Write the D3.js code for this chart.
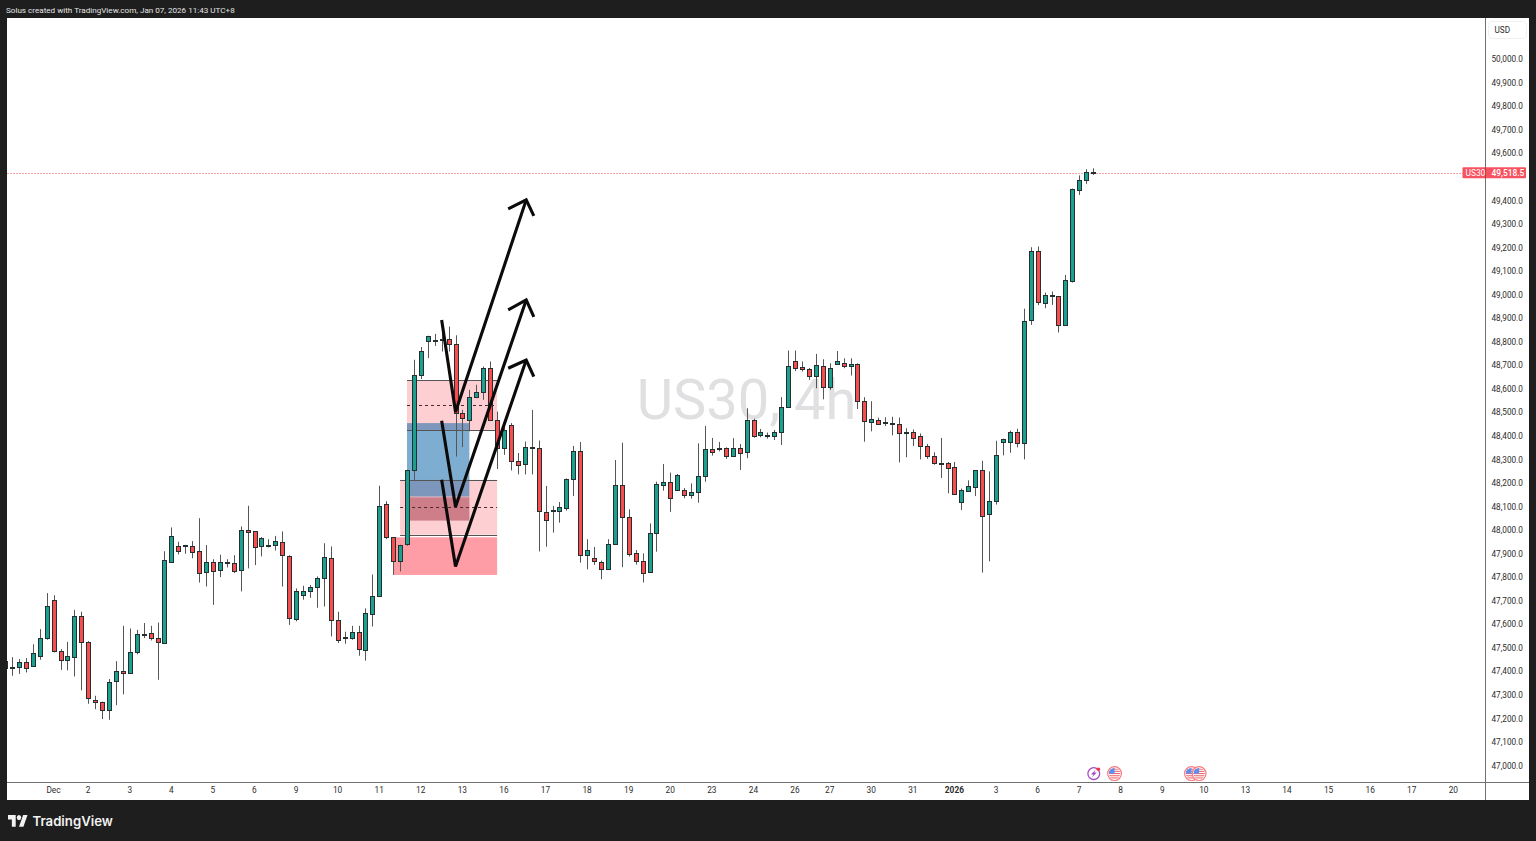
<!DOCTYPE html>
<html><head><meta charset="utf-8">
<style>html,body{margin:0;padding:0;background:#1e1e1e;overflow:hidden}svg{display:block}</style>
<script src="https://cdnjs.cloudflare.com/ajax/libs/d3/7.8.5/d3.min.js"></script>
</head><body><svg id="c" width="1536" height="841"></svg>
<script>
// bars are numbered from -1 (partly hidden at the left edge)
const opens=[47412,47416,47416,47438,47419,47461,47540,47700,47486,47444,47458,47631,47523,47276,47267,47232,47355,47399,47389,47482,47554,47560,47539,47520,47864,47931,47931,47931,47908,47819,47864,47830,47864,47857,47828,47999,47992,47932,47931,47934,47949,47888,47618,47723,47740,47757,47796,47877,47614,47543,47540,47564,47489,47642,47716,48109,47968,47865,47937,48251,48658,48800,48799,48804,48808,48786,48493,48467,48562,48586,48687,48467,48346,48442,48291,48278,48351,48347,48075,48082,48080,48093,48213,48333,47891,47881,47864,47833,47939,48191,48052,47899,47865,47818,47984,48191,48202,48168,48168,48148,48159,48226,48341,48342,48345,48314,48345,48328,48464,48402,48402,48396,48413,48519,48714,48689,48680,48652,48695,48607,48705,48706,48695,48702,48545,48458,48464,48456,48454,48450,48414,48413,48399,48353,48311,48284,48281,48264,48116,48165,48182,48251,48066,48123,48373,48373,48414,48367,48889,49185,48961,48991,48991,48869,49057,49444,49483,49514];
const highs=[47447,47458,47450,47454,47513,47577,47730,47721,47492,47523,47659,47651,47526,47294,47269,47365,47441,47591,47580,47574,47603,47591,47605,47908,48009,47948,47935,47951,48048,47934,47874,47893,47874,47891,48013,48101,47992,47968,47959,47973,47992,47891,47750,47761,47764,47801,47942,47928,47651,47566,47591,47591,47665,47809,48186,48120,47968,47935,48254,48721,48775,48823,48831,48834,48862,48825,48508,48593,48615,48692,48714,48501,48438,48452,48325,48374,48508,48378,48185,48100,48117,48217,48355,48372,47959,47926,47868,47959,48295,48369,48086,47913,47899,48026,48203,48278,48242,48236,48176,48196,48366,48440,48389,48372,48349,48388,48363,48515,48471,48427,48412,48423,48562,48760,48760,48714,48686,48746,48723,48706,48758,48727,48727,48706,48562,48545,48475,48477,48479,48476,48430,48425,48408,48363,48328,48389,48287,48287,48174,48209,48253,48292,48247,48377,48386,48420,48428,48938,49199,49202,49006,49011,48992,49081,49448,49504,49530,49534];
const lows=[47404,47379,47387,47393,47419,47447,47532,47478,47404,47402,47376,47317,47260,47237,47195,47192,47254,47300,47389,47470,47539,47529,47362,47520,47864,47894,47897,47878,47775,47758,47680,47798,47839,47815,47737,47835,47849,47886,47924,47911,47758,47595,47610,47702,47710,47668,47673,47546,47518,47515,47532,47464,47443,47588,47713,47959,47808,47822,47931,48211,48639,48728,48780,48756,48756,48310,48350,48417,48558,48551,48463,48257,48317,48251,48234,48234,48234,47907,47927,47987,48029,48080,48142,47859,47831,47850,47789,47831,47934,47840,47885,47851,47775,47817,47906,48165,48075,48165,48133,48131,48114,48203,48314,48332,48300,48314,48253,48303,48390,48392,48386,48380,48359,48516,48673,48671,48635,48600,48553,48593,48703,48685,48654,48512,48373,48417,48444,48440,48400,48285,48307,48355,48298,48300,48275,48219,48154,48147,48083,48162,48142,47817,47865,48106,48315,48326,48349,48298,48869,48953,48940,48954,48837,48868,49049,49421,49468,49506];
const closes=[47440,47417,47438,47414,47475,47540,47676,47486,47444,47461,47631,47523,47283,47267,47232,47352,47399,47389,47478,47557,47557,47539,47523,47870,47973,47908,47934,47905,47816,47864,47825,47864,47856,47826,47997,47990,47925,47963,47936,47951,47890,47625,47738,47738,47757,47796,47883,47614,47530,47540,47566,47492,47645,47717,48098,47968,47865,47934,48252,48656,48758,48820,48803,48808,48786,48493,48473,48562,48586,48687,48467,48347,48422,48293,48275,48351,48347,48078,48041,48077,48094,48216,48333,47893,47913,47865,47833,47939,48188,48055,47898,47865,47816,47984,48193,48202,48134,48230,48148,48158,48226,48341,48328,48346,48314,48348,48327,48464,48399,48413,48396,48413,48519,48695,48688,48680,48652,48697,48607,48685,48714,48695,48702,48547,48460,48468,48450,48453,48451,48411,48411,48390,48353,48311,48283,48281,48260,48150,48167,48185,48251,48059,48120,48317,48383,48416,48367,48887,49185,48965,48994,48995,48870,49059,49445,49483,49517,49519];
const priceTicks=[47000,47100,47200,47300,47400,47500,47600,47700,47800,47900,48000,48100,48200,48300,48400,48500,48600,48700,48800,48900,49000,49100,49200,49300,49400,49600,49700,49800,49900,50000];
const timeLabels=["Dec","2","3","4","5","6","9","10","11","12","13","16","17","18","19","20","23","24","26","27","30","31","2026","3","6","7","8","9","10","13","14","15","16","17","20"];
const timeBars=[6,11,17,23,29,35,41,47,53,59,65,71,77,83,89,95,101,107,113,118,124,130,136,142,148,154,160,166,172,178,184,190,196,202,208];
const lastPrice=49518.5;
// [bar start, bar end, price top, price bottom]
const boxStart=[57,55,56,57,57];
const boxEnd=[70,70,70,66,66];
const boxTop=[48635,47967,48211,48452,48137];
const boxBottom=[48423,47807,47978,48140,48038];
const boxFill=["rgba(247,82,95,.28)","rgba(255,60,80,.5)","rgba(247,82,95,.28)","rgba(15,104,168,.54)","rgba(150,30,50,.46)"];
const midBars=[[57,70],[56,70]];
const midPrices=[48529,48095];
// drawn zigzag arrows: bar and price of every vertex
const arrowBars=[[62,64,74.2],[62,64,74.2],[62,64,74.2]];
const arrowPrices=[[48890,48499,49400],[48462,48097,48975],[48211,47843,48720]];
const headBars=[[71.6,74.2,75.3],[71.6,74.2,75.3],[71.6,74.2,75.3]];
const headPrices=[[49362,49400,49332],[48933,48975,48903],[48685,48720,48649]];
const eventKinds=["bolt","flag","flag","flag"];
const eventBars=[156.1,159.1,170.2,171.3];

const UP="#1ba090",DOWN="#f94c4f",EDGE="#23302f",WICK="#565656";
const L=7,R=1485,T=18,B=782;
const x=d3.scaleLinear().domain([0,156]).range([12,1093.08]);
const y=d3.scaleLinear().domain([47000,50000]).range([765,58.6]);
const fontUI='Roboto,sans-serif';
const svg=d3.select("#c");
const defs=svg.append("defs");
defs.append("clipPath").attr("id","pane").append("rect").attr("x",L).attr("y",T).attr("width",R-L).attr("height",B-T);

svg.append("rect").attr("width",1536).attr("height",841).attr("fill","#1e1e1e");
svg.append("rect").attr("x",L).attr("y",T).attr("width",1529-L).attr("height",800-T).attr("fill","#fff");

svg.append("text").attr("x",6).attr("y",12.5).attr("fill","#e4e4e4").attr("font-family",fontUI).attr("font-size",8.1)
  .text("Solus created with TradingView.com, Jan 07, 2026 11:43 UTC+8");

const pane=svg.append("g").attr("clip-path","url(#pane)");
pane.append("text").attr("x",746.5).attr("y",419).attr("text-anchor","middle").attr("fill","#e0e0e2")
  .attr("font-family","Roboto,sans-serif").attr("font-size",56).text("US30, 4h");

// price line
pane.append("line").attr("x1",L).attr("x2",R).attr("y1",Math.round(y(lastPrice))+1.5).attr("y2",Math.round(y(lastPrice))+1.5)
  .attr("stroke","#fba4aa").attr("stroke-dasharray","2 1");

// boxes
pane.selectAll("rect.box").data(boxStart).join("rect").attr("class","box")
  .attr("x",(d)=>x(d)).attr("width",(d,i)=>x(boxEnd[i])-x(d))
  .attr("y",(d,i)=>y(boxTop[i])).attr("height",(d,i)=>y(boxBottom[i])-y(boxTop[i]))
  .attr("fill",(d,i)=>boxFill[i]);
const boxLines=[[0,boxTop[0]],[0,boxBottom[0]],[2,boxTop[2]],[2,boxBottom[2]]];
pane.selectAll("line.edge").data(boxLines).join("line").attr("class","edge")
  .attr("x1",d=>x(boxStart[d[0]])).attr("x2",d=>x(boxEnd[d[0]]))
  .attr("y1",d=>Math.round(y(d[1]))+.5).attr("y2",d=>Math.round(y(d[1]))+.5)
  .attr("stroke","#555").attr("stroke-width",1);
pane.selectAll("line.mid").data(midPrices).join("line").attr("class","mid")
  .attr("x1",(d,i)=>x(midBars[i][0])).attr("x2",(d,i)=>x(midBars[i][1]))
  .attr("y1",d=>Math.round(y(d))+.5).attr("y2",d=>Math.round(y(d))+.5)
  .attr("stroke","#4a2a30").attr("stroke-dasharray","3 3");

// candles
const bars=d3.range(opens.length);
const barX=i=>x(i-1);
const g=pane.append("g");
g.selectAll("line.w").data(bars).join("line").attr("class","w")
  .attr("x1",i=>Math.round(barX(i))+.5).attr("x2",i=>Math.round(barX(i))+.5)
  .attr("y1",i=>y(highs[i])).attr("y2",i=>y(lows[i])).attr("stroke",WICK).attr("stroke-width",1);
g.selectAll("rect.b").data(bars).join("rect").attr("class","b")
  .attr("x",i=>Math.round(barX(i))-1.5).attr("width",4)
  .attr("y",i=>Math.round(y(Math.max(opens[i],closes[i])))+.5)
  .attr("height",i=>Math.max(1,Math.round(y(Math.min(opens[i],closes[i])))-Math.round(y(Math.max(opens[i],closes[i])))))
  .attr("fill",i=>closes[i]>=opens[i]?UP:DOWN).attr("stroke",EDGE).attr("stroke-width",1);

// arrows
const line=d3.line().x(d=>x(d[0])).y(d=>y(d[1]));
arrowBars.forEach((b,k)=>{
  pane.append("path").attr("d",line(b.map((v,j)=>[v,arrowPrices[k][j]])))
    .attr("fill","none").attr("stroke","#0b0b0b").attr("stroke-width",3.1).attr("stroke-linejoin","miter");
  pane.append("path").attr("d",line(headBars[k].map((v,j)=>[v,headPrices[k][j]])))
    .attr("fill","none").attr("stroke","#0b0b0b").attr("stroke-width",3.1).attr("stroke-linejoin","miter");
});

// axes
const axisY=d3.axisRight(y).tickValues(priceTicks).tickSize(0).tickPadding(0).tickFormat(d3.format(",.1f"));
const ay=svg.append("g").attr("transform",`translate(${R+6.5},0.5)`).call(axisY);
ay.select(".domain").remove();
ay.selectAll("text").attr("fill","#2c2c2c").attr("font-family",fontUI).attr("font-size",8.2).attr("x",0).attr("text-anchor","start");

const axisX=d3.axisBottom(x).tickValues(timeBars).tickSize(0).tickPadding(0).tickFormat((d,i)=>timeLabels[i]);
const ax=svg.append("g").attr("transform",`translate(-0.6,${B+5})`).call(axisX);
ax.select(".domain").remove();
ax.selectAll("text").attr("fill","#2c2c2c").attr("font-family",fontUI).attr("font-size",8.3)
  .attr("font-weight",(d,i)=>timeLabels[i]==="2026"?700:400);

// borders
svg.append("line").attr("x1",L).attr("x2",1529).attr("y1",782.5).attr("y2",782.5).attr("stroke","#707070");
svg.append("line").attr("x1",1485.5).attr("x2",1485.5).attr("y1",T).attr("y2",800).attr("stroke","#707070");

// USD tag
svg.append("rect").attr("x",1488.5).attr("y",21.5).attr("width",38).attr("height",17).attr("rx",3).attr("fill","#fff").attr("stroke","#f0f0f0");
svg.append("text").attr("x",1494.5).attr("y",33).attr("fill","#2c2c2c").attr("font-family",fontUI).attr("font-size",8.2).text("USD");

// last price tag
const py=y(lastPrice)+.8;
svg.append("rect").attr("x",1462.5).attr("y",py-5.5).attr("width",63.5).attr("height",11).attr("rx",1).attr("fill","#f7525f");
svg.append("line").attr("x1",1485.5).attr("x2",1485.5).attr("y1",py-5.5).attr("y2",py+5.5).attr("stroke","#a8404a");
svg.append("text").attr("x",1465.5).attr("y",py+3).attr("fill","#fff").attr("font-family",fontUI).attr("font-size",8.4).text("US30");
svg.append("text").attr("x",1491.5).attr("y",py+3).attr("fill","#fff").attr("font-family",fontUI).attr("font-size",8.4).attr("font-weight",500).text(d3.format(",.1f")(lastPrice));

// event icons
eventBars.forEach((b,k)=>{
  const cx=x(b),cy=773.6;
  const ic=svg.append("g").attr("transform",`translate(${cx},${cy})`);
  if(eventKinds[k]==="bolt"){
    ic.append("circle").attr("r",5.9).attr("fill","#fff").attr("stroke","#a24cc4").attr("stroke-width",1.3);
    ic.append("path").attr("d","M2-4.2-2.8.8H-.2L-2,4.2 3-1H.4Z").attr("fill","#a24cc4");
    ic.append("circle").attr("cx",4.6).attr("cy",-4.4).attr("r",1.8).attr("fill","#f23645");
  }else{
    const id="f"+k;
    defs.append("clipPath").attr("id",id).append("circle").attr("r",5.7);
    ic.append("circle").attr("r",6.9).attr("fill","#fff").attr("stroke","#f77c80").attr("stroke-width",1.2);
    const f=ic.append("g").attr("clip-path",`url(#${id})`);
    f.append("rect").attr("x",-6).attr("y",-6).attr("width",12).attr("height",12).attr("fill","#fff");
    d3.range(-5,6,2.2).forEach(s=>f.append("rect").attr("x",-6).attr("y",s).attr("width",12).attr("height",1.1).attr("fill","#ef6a70"));
    f.append("rect").attr("x",-6).attr("y",-6).attr("width",6).attr("height",6).attr("fill","#5b8ff0");
  }
});

// TradingView logo
const logo=svg.append("g").attr("transform","translate(8,812.4) scale(.55,.65)").attr("fill","#f2f2f2");
logo.append("path").attr("d","M14 22H7V11H0V4h14v18zM28 22h-8l7.5-18h8L28 22z");
logo.append("circle").attr("cx",20).attr("cy",8).attr("r",4);
svg.append("text").attr("x",32.5).attr("y",826).attr("fill","#f2f2f2").attr("font-family","Inter,sans-serif").attr("font-size",13.2).attr("font-weight",600).text("TradingView");
</script></body></html>
